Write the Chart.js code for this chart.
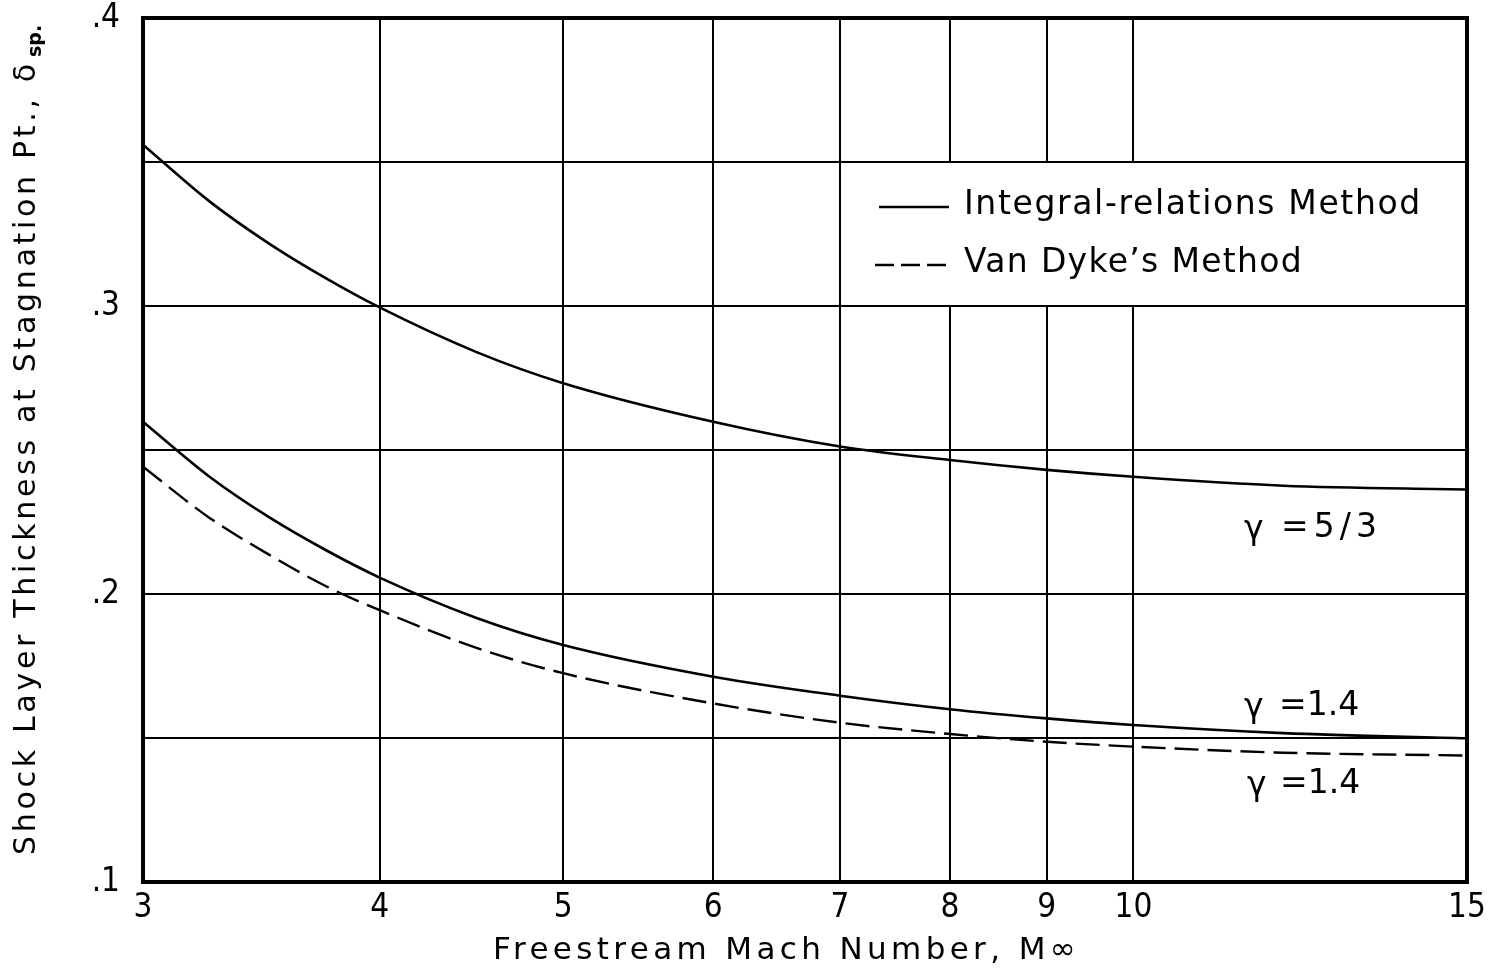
<!DOCTYPE html>
<html>
<head>
<meta charset="utf-8">
<script src="https://cdn.jsdelivr.net/npm/chart.js@4.4.1/dist/chart.umd.min.js"></script>
<style>
  html, body { margin: 0; padding: 0; background: #fff; }
  #wrap { width: 1492px; height: 980px; }
</style>
</head>
<body>
<div id="wrap"><canvas id="shockChart" width="1492" height="980"></canvas></div>
<script>
// Mach numbers
var mach = [3, 3.25, 3.5, 3.75, 4, 4.5, 5, 6, 7, 8, 9, 10, 12, 15];
// integral-relations, gamma = 5/3
var ir_53 = [0.356, 0.3365, 0.3215, 0.3095, 0.2995, 0.284, 0.2732, 0.2598, 0.2512, 0.2465, 0.2431, 0.2407, 0.2376, 0.2363];
// integral-relations, gamma = 1.4
var ir_14 = [0.2598, 0.2409, 0.2265, 0.2151, 0.2057, 0.1917, 0.1823, 0.1713, 0.1647, 0.1600, 0.1568, 0.1545, 0.1517, 0.1499];
// Van Dyke, gamma = 1.4
var vd_14 = [0.2442, 0.2266, 0.2135, 0.2026, 0.1944, 0.1813, 0.1725, 0.1620, 0.1553, 0.1514, 0.1487, 0.1470, 0.1449, 0.1439];
var x_ticks = [3, 4, 5, 6, 7, 8, 9, 10, 15];

var tick_font = "'DejaVu Sans Condensed', 'DejaVu Sans', sans-serif";
var text_font = "'DejaVu Sans', sans-serif";

function pts(ys) {
    var out = [];
    var i = 0;
    while (i < mach.length) {
        out.push({"x": mach[i], "y": ys[i]});
        i = i + 1;
    }
    return out;
}

// draw text stretched out with letter spacing to a given width
function spaced(c, txt, x, y, font, width) {
    c.font = font;
    c.letterSpacing = '0px';
    var w = c.measureText(txt).width;
    var n = Array.from(txt).length;
    var s = (width - w) / n;
    if (s < 0) { s = 0; }
    c.letterSpacing = s.toFixed(2) + 'px';
    c.fillText(txt, x, y);
    c.letterSpacing = '0px';
}

var decor = {
    id: 'decor',
    beforeDatasetsDraw: function(chart) {
        var c = chart.ctx;
        var xs = chart.scales.x, ys = chart.scales.y;
        // white legend box between gridlines M=7..15, .30..35
        var l = xs.getPixelForValue(7), r = xs.getPixelForValue(15);
        var t = ys.getPixelForValue(0.35), b = ys.getPixelForValue(0.30);
        c.save();
        c.fillStyle = '#fff';
        c.fillRect(l + 1, t + 1, r - l - 2, b - t - 2);
        c.restore();
    },
    afterDraw: function(chart) {
        var c = chart.ctx;
        var a = chart.chartArea;
        c.save();
        // frame
        c.strokeStyle = '#000';
        c.lineWidth = 4;
        c.strokeRect(a.left, a.top, a.right - a.left, a.bottom - a.top);

        // legend
        c.lineWidth = 2.5;
        c.beginPath();
        c.moveTo(879, 207);
        c.lineTo(949, 207);
        c.stroke();
        c.setLineDash([19, 7]);
        c.beginPath();
        c.moveTo(875, 265);
        c.lineTo(948, 265);
        c.stroke();
        c.setLineDash([]);
        c.fillStyle = '#000';
        c.textBaseline = 'middle';
        c.textAlign = 'left';
        spaced(c, "Integral-relations Method", 964, 205, "33px " + text_font, 458);
        spaced(c, "Van Dyke\u2019s Method", 964, 263, "33px " + text_font, 339);

        // gamma labels
        c.font = "33px " + text_font;
        c.fillText("\u03B3", 1244, 530);
        spaced(c, "=5/3", 1281, 528, "33px " + text_font, 101);
        c.font = "33px " + text_font;
        c.fillText("\u03B3", 1244, 708);
        spaced(c, "=1.4", 1279, 706, "33px " + text_font, 80);
        c.font = "33px " + text_font;
        c.fillText("\u03B3", 1247, 786);
        spaced(c, "=1.4", 1280, 784, "33px " + text_font, 78);

        // x title
        spaced(c, "Freestream Mach Number, M\u221E", 493, 951, "31px " + text_font, 587);

        // y title, rotated, reading upward
        c.translate(35, 855);
        c.rotate(-Math.PI / 2);
        c.textBaseline = 'alphabetic';
        spaced(c, "Shock Layer Thickness at Stagnation Pt., \u03B4", 0, 0, "30px " + text_font, 795);
        c.font = "bold 19px " + text_font;
        c.fillText("sp.", 798, 6);
        c.restore();
    }
};

var ctx = document.getElementById("shockChart").getContext('2d');
window.shock_chart = new Chart(ctx, {
    type: 'line',
    data: {
        datasets: [
            {
                label: "Integral-relations, 5/3",
                data: pts(ir_53),
                borderColor: '#000',
                borderWidth: 2.6,
                pointRadius: 0,
                cubicInterpolationMode: 'monotone'
            },
            {
                label: "Integral-relations, 1.4",
                data: pts(ir_14),
                borderColor: '#000',
                borderWidth: 2.6,
                pointRadius: 0,
                cubicInterpolationMode: 'monotone'
            },
            {
                label: "Van Dyke, 1.4",
                data: pts(vd_14),
                borderColor: '#000',
                borderWidth: 2.4,
                borderDash: [24, 9],
                pointRadius: 0,
                cubicInterpolationMode: 'monotone'
            }
        ]
    },
    options: {
        responsive: false,
        animation: false,
        layout: { padding: { left: 0, right: 25, top: 18, bottom: 0 } },
        plugins: {
            legend: { display: false },
            tooltip: { enabled: false },
            title: { display: false }
        },
        scales: {
            x: {
                type: 'logarithmic',
                min: 3,
                max: 15,
                afterBuildTicks: function(axis) {
                    axis.ticks = x_ticks.map(function(v) { return {value: v}; });
                },
                afterFit: function(axis) {
                    axis.height = 98;
                    axis.paddingLeft = 0;
                    axis.paddingRight = 0;
                },
                ticks: {
                    autoSkip: false,
                    maxRotation: 0,
                    padding: 7,
                    color: '#000',
                    font: { family: tick_font, size: 33 },
                    callback: function(v) { return String(v); }
                },
                grid: { color: '#000', lineWidth: 2, drawTicks: false },
                border: { color: '#000', width: 4 }
            },
            y: {
                type: 'linear',
                min: 0.1,
                max: 0.4,
                afterFit: function(axis) {
                    axis.width = 143;
                    axis.paddingTop = 0;
                    axis.paddingBottom = 0;
                },
                ticks: {
                    stepSize: 0.05,
                    padding: 23,
                    color: '#000',
                    font: { family: tick_font, size: 33 },
                    callback: function(v) {
                        var k = Math.round(v * 100);
                        if (k % 10 != 0) { return ''; }
                        return '.' + (k / 10);
                    }
                },
                grid: { color: '#000', lineWidth: 2, drawTicks: false },
                border: { color: '#000', width: 4 }
            }
        }
    },
    plugins: [decor]
});
</script>
</body>
</html>
